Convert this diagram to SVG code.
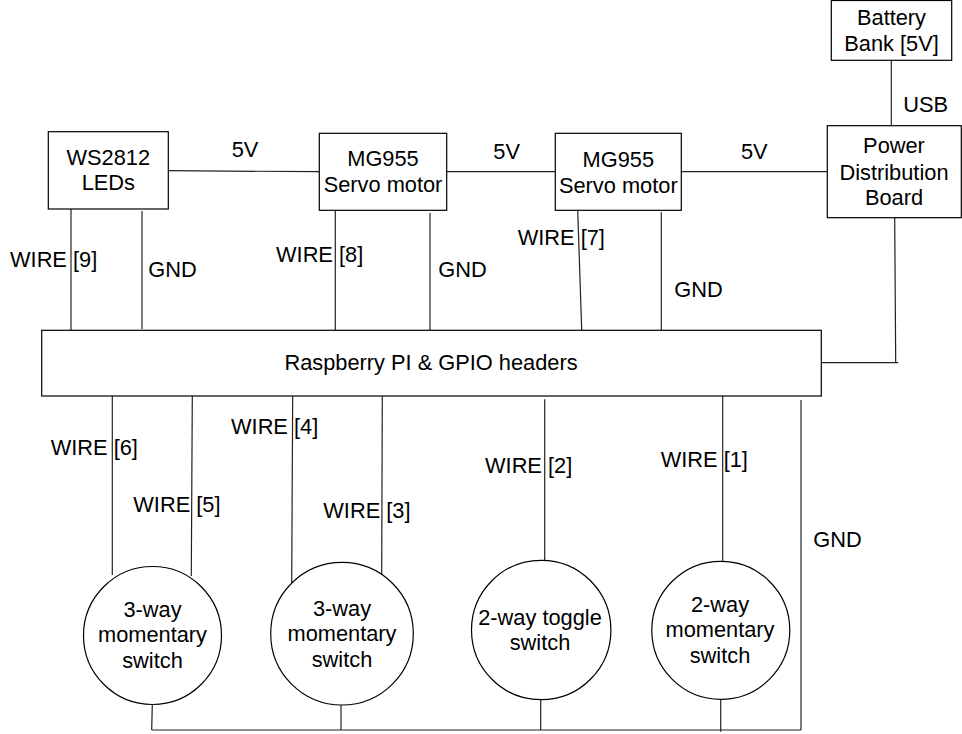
<svg xmlns="http://www.w3.org/2000/svg" width="962" height="734" viewBox="0 0 962 734">
<style>
rect, circle { fill: #fff; stroke: #000; stroke-width: 1.2; }
.c line, .c polyline { stroke: #222; stroke-width: 1.2; fill: none; }
text { font-family: "Liberation Sans", Arial, sans-serif; font-size: 21.8px; fill: #000; }
.m { text-anchor: middle; }
</style>
<rect x="0" y="0" width="962" height="734" style="fill:#fff;stroke:none"/>
<g class="c" id="connectors">
  <line x1="168" y1="170.7" x2="319" y2="171.7"/>
  <line x1="447" y1="171.7" x2="555" y2="171.7"/>
  <line x1="681" y1="171.7" x2="827" y2="171.7"/>
  <line x1="891.3" y1="60.5" x2="891.3" y2="126"/>
  <line x1="71" y1="209" x2="71" y2="330"/>
  <line x1="142" y1="211" x2="142" y2="329"/>
  <line x1="335.3" y1="210" x2="335.3" y2="330"/>
  <line x1="430" y1="213" x2="430" y2="330"/>
  <line x1="577.7" y1="210" x2="581.7" y2="330"/>
  <line x1="661.3" y1="212.3" x2="661.3" y2="330"/>
  <polyline points="894.7,218 895.7,362.7"/>
  <line x1="821.5" y1="362.7" x2="898.3" y2="362.7"/>
  <line x1="112.3" y1="396" x2="112.3" y2="575"/>
  <line x1="192.3" y1="396" x2="191.3" y2="576"/>
  <line x1="292.7" y1="394" x2="291.7" y2="582.7"/>
  <line x1="382.3" y1="396" x2="381.7" y2="576.7"/>
  <line x1="544.7" y1="399.3" x2="544.7" y2="560"/>
  <line x1="722.7" y1="396" x2="722.7" y2="561.7"/>
  <line x1="801" y1="400" x2="801" y2="730"/>
  <line x1="152.3" y1="704.5" x2="151.7" y2="730"/>
  <line x1="341" y1="705" x2="341" y2="730"/>
  <line x1="540.7" y1="700" x2="540.7" y2="730"/>
  <line x1="720.7" y1="699" x2="720.7" y2="731.7"/>
  <line x1="151.7" y1="730" x2="801" y2="730"/>
  <text x="231.7" y="157.3">5V</text>
  <text x="493.3" y="159.3">5V</text>
  <text x="741" y="159.3">5V</text>
  <text x="903.3" y="112.3">USB</text>
  <text x="10" y="266.7">WIRE [9]</text>
  <text x="148.3" y="277.3">GND</text>
  <text x="276" y="261.7">WIRE [8]</text>
  <text x="438.3" y="277.3">GND</text>
  <text x="517.7" y="245">WIRE [7]</text>
  <text x="674.3" y="296.7">GND</text>
  <text x="50.7" y="455">WIRE [6]</text>
  <text x="133.3" y="512.3">WIRE [5]</text>
  <text x="231" y="434.3">WIRE [4]</text>
  <text x="323.3" y="517.7">WIRE [3]</text>
  <text x="485" y="473.3">WIRE [2]</text>
  <text x="660.7" y="466.7">WIRE [1]</text>
  <text x="813.3" y="546.7">GND</text>
</g>
<g id="battery">
  <rect x="831.3" y="0.5" width="120.4" height="59.8"/>
  <text class="m" x="891.5" y="25">Battery</text>
  <text class="m" x="891.5" y="50.7">Bank [5V]</text>
</g>
<g id="pdb">
  <rect x="827.3" y="125.7" width="134" height="92"/>
  <text class="m" x="894" y="153.3">Power</text>
  <text class="m" x="894" y="180">Distribution</text>
  <text class="m" x="894" y="205">Board</text>
</g>
<g id="ws2812">
  <rect x="48.3" y="131.7" width="120" height="77.3"/>
  <text class="m" x="108.3" y="165">WS2812</text>
  <text class="m" x="108.3" y="190">LEDs</text>
</g>
<g id="servo1">
  <rect x="319.3" y="133.3" width="127.4" height="77"/>
  <text class="m" x="383" y="165.7">MG955</text>
  <text class="m" x="383" y="191.7">Servo motor</text>
</g>
<g id="servo2">
  <rect x="555.3" y="133.3" width="126" height="77"/>
  <text class="m" x="618.3" y="166.7">MG955</text>
  <text class="m" x="618.3" y="192.7">Servo motor</text>
</g>
<g id="raspberry">
  <rect x="41.7" y="330.3" width="779.6" height="65.7"/>
  <text class="m" x="431" y="370.3">Raspberry PI &amp; GPIO headers</text>
</g>
<g id="switch1">
  <circle cx="152.5" cy="635.5" r="69"/>
  <text class="m" x="152.5" y="616.7">3-way</text>
  <text class="m" x="152.5" y="642.3">momentary</text>
  <text class="m" x="152.5" y="667.7">switch</text>
</g>
<g id="switch2">
  <circle cx="342" cy="633.7" r="71.3"/>
  <text class="m" x="342" y="616">3-way</text>
  <text class="m" x="342" y="641.3">momentary</text>
  <text class="m" x="342" y="666.7">switch</text>
</g>
<g id="switch3">
  <circle cx="541.2" cy="630" r="69.7"/>
  <text class="m" x="540" y="625">2-way toggle</text>
  <text class="m" x="540" y="650">switch</text>
</g>
<g id="switch4">
  <circle cx="720.8" cy="630.3" r="69"/>
  <text class="m" x="720" y="611.7">2-way</text>
  <text class="m" x="720" y="636.7">momentary</text>
  <text class="m" x="720" y="662.7">switch</text>
</g>
</svg>
